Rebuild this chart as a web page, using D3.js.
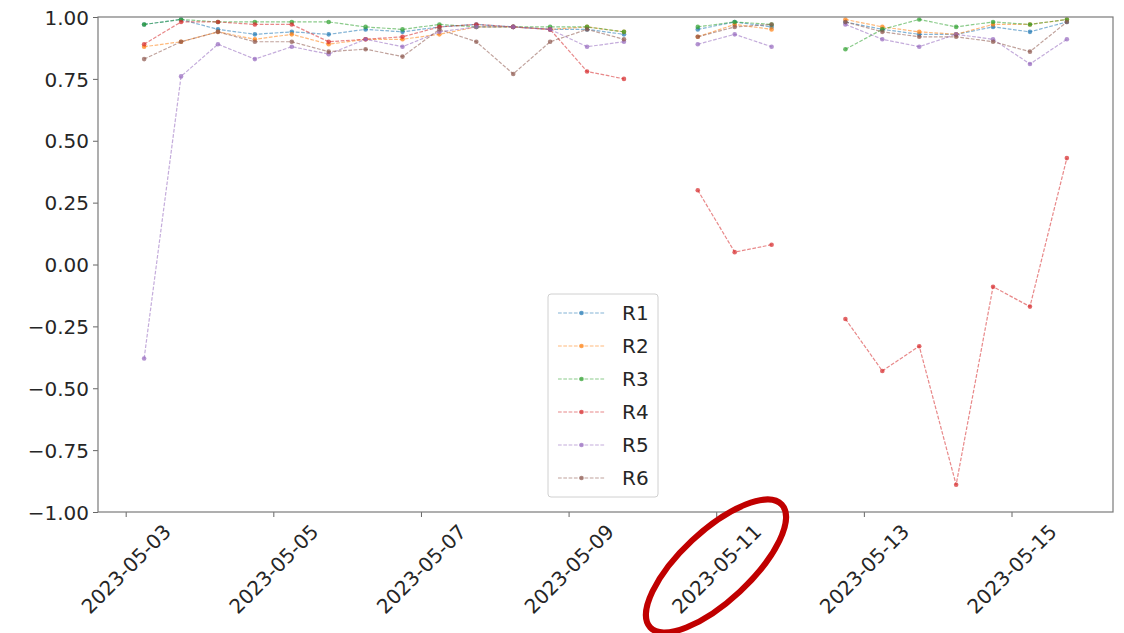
<!DOCTYPE html>
<html lang="en">
<head>
<meta charset="UTF-8">
<title>R1 - R6</title>
<script src="https://d3js.org/d3.v7.min.js"></script>
<style>
body, html { margin: 0; padding: 0; background: #fff; }
text { font-family: "DejaVu Sans", sans-serif; fill: #262626; }
.tick text { font-size: 20px; }
.axis path.domain { display: none; }
.tick line { stroke: #666; stroke-width: 1; }
.frame { fill: none; stroke: #7a7a7a; stroke-width: 1.2; }
.series { fill: none; stroke-width: 1.2; stroke-dasharray: 3.7,1.6; stroke-opacity: 0.55; }
.dot { fill-opacity: 0.7; }
.legend-box { fill: #fff; fill-opacity: 0.85; stroke: #d0d0d0; }
.legend-label { font-size: 20px; }
.note { fill: none; stroke: #c00000; stroke-width: 6; }
</style>
</head>
<body>
<script>
// sample times (every 12 hours)
var times = [
	"2023-05-03 06:00", "2023-05-03 18:00", "2023-05-04 06:00", "2023-05-04 18:00",
	"2023-05-05 06:00", "2023-05-05 18:00", "2023-05-06 06:00", "2023-05-06 18:00",
	"2023-05-07 06:00", "2023-05-07 18:00", "2023-05-08 06:00", "2023-05-08 18:00",
	"2023-05-09 06:00", "2023-05-09 18:00", "2023-05-10 06:00", "2023-05-10 18:00",
	"2023-05-11 06:00", "2023-05-11 18:00", "2023-05-12 06:00", "2023-05-12 18:00",
	"2023-05-13 06:00", "2023-05-13 18:00", "2023-05-14 06:00", "2023-05-14 18:00",
	"2023-05-15 06:00", "2023-05-15 18:00"
];

var R1 = [0.97, 0.99, 0.95, 0.93, 0.94, 0.93, 0.95, 0.94, 0.96, 0.97, 0.96, 0.95, 0.95, 0.93, null, 0.95, 0.98, 0.96, null, 0.98, 0.95, 0.93, 0.93, 0.96, 0.94, 0.98];
var R2 = [0.88, 0.90, 0.94, 0.91, 0.93, 0.89, 0.91, 0.91, 0.93, 0.96, 0.96, 0.95, 0.96, 0.94, null, 0.92, 0.97, 0.95, null, 0.99, 0.96, 0.94, 0.93, 0.97, 0.97, 0.99];
var R3 = [0.97, 0.99, 0.98, 0.98, 0.98, 0.98, 0.96, 0.95, 0.97, 0.96, 0.96, 0.96, 0.96, 0.94, null, 0.96, 0.98, 0.97, null, 0.87, 0.95, 0.99, 0.96, 0.98, 0.97, 0.99];
var R4 = [0.89, 0.98, 0.98, 0.97, 0.97, 0.90, 0.91, 0.92, 0.96, 0.97, 0.96, 0.95, 0.78, 0.75, null, 0.30, 0.05, 0.08, null, -0.22, -0.43, -0.33, -0.89, -0.09, -0.17, 0.43];
var R5 = [-0.38, 0.76, 0.89, 0.83, 0.88, 0.85, 0.91, 0.88, 0.94, 0.96, 0.96, 0.95, 0.88, 0.90, null, 0.89, 0.93, 0.88, null, 0.97, 0.91, 0.88, 0.93, 0.91, 0.81, 0.91];
var R6 = [0.83, 0.90, 0.94, 0.90, 0.90, 0.86, 0.87, 0.84, 0.95, 0.90, 0.77, 0.90, 0.95, 0.91, null, 0.92, 0.96, 0.97, null, 0.98, 0.94, 0.92, 0.92, 0.90, 0.86, 0.98];

var seriesNames = ["R1", "R2", "R3", "R4", "R5", "R6"];
var seriesValues = [R1, R2, R3, R4, R5, R6];
var colors = ["#1f77b4", "#ff7f0e", "#2ca02c", "#d62728", "#9467bd", "#8c564b"];

var xTickLabels = ["2023-05-03", "2023-05-05", "2023-05-07", "2023-05-09", "2023-05-11", "2023-05-13", "2023-05-15"];
var yTickValues = [1, 0.75, 0.5, 0.25, 0, -0.25, -0.5, -0.75, -1];

var w = 1124;
var h = 633;
var margin = { top: 17, right: 11, bottom: 121, left: 98 };
var width = w - margin.left - margin.right;
var height = h - margin.top - margin.bottom;

var timeParser = d3.timeParse("%Y-%m-%d %H:%M");
var dayParser = d3.timeParse("%Y-%m-%d");
var dates = times.map(timeParser);

var svg = d3.select("body").append("svg")
	.attr("width", w)
	.attr("height", h);

var chart = svg.append("g")
	.attr("transform", "translate(" + margin.left + "," + margin.top + ")");

// 5% padding on each side like the original
var ext = d3.extent(dates);
var pad = (ext[1] - ext[0]) * 0.05;
var x = d3.scaleTime()
	.domain([new Date(+ext[0] - pad), new Date(+ext[1] + pad)])
	.range([0, width]);

var y = d3.scaleLinear()
	.domain([-1, 1])
	.range([height, 0]);

var xAxis = d3.axisBottom(x)
	.tickValues(xTickLabels.map(dayParser))
	.tickFormat(d3.timeFormat("%Y-%m-%d"))
	.tickSize(5)
	.tickPadding(4);

var yAxis = d3.axisLeft(y)
	.tickValues(yTickValues)
	.tickFormat(d3.format(".2f"))
	.tickSize(5)
	.tickPadding(4);

chart.append("g")
	.classed("y axis", true)
	.call(yAxis)
	.selectAll("text")
	.attr("dy", "0.36em");

var xg = chart.append("g")
	.classed("x axis", true)
	.attr("transform", "translate(0," + height + ")")
	.call(xAxis);

xg.selectAll("text").each(function(){
	var L = this.getComputedTextLength();
	var half = (L + 14) * Math.SQRT1_2 / 2;
	d3.select(this)
		.attr("x", 0)
		.attr("y", 0)
		.attr("dy", "0.35em")
		.attr("text-anchor", "middle")
		.attr("transform", "translate(0," + (11 + half) + ") rotate(-45)");
});

var line = d3.line()
	.defined(function(d){ return d.v !== null; })
	.x(function(d){ return x(d.t); })
	.y(function(d){ return y(d.v); });

seriesValues.forEach(function(vals, i){
	var pts = vals.map(function(v, j){ return { t: dates[j], v: v }; });
	chart.append("path")
		.datum(pts)
		.classed("series", true)
		.attr("stroke", colors[i])
		.attr("d", line);

	chart.selectAll(".dot" + i)
		.data(pts.filter(function(d){ return d.v !== null; }))
		.enter()
			.append("circle")
			.attr("class", "dot dot" + i)
			.attr("cx", function(d){ return x(d.t); })
			.attr("cy", function(d){ return y(d.v); })
			.attr("r", 2.3)
			.style("fill", colors[i]);
});

chart.append("rect")
	.classed("frame", true)
	.attr("width", width)
	.attr("height", height);

// legend
var legend = chart.append("g")
	.attr("transform", "translate(" + (450) + "," + (277) + ")");

legend.append("rect")
	.classed("legend-box", true)
	.attr("width", 110)
	.attr("height", 203)
	.attr("rx", 3);

seriesNames.forEach(function(name, i){
	var ly = 19 + i * 33;
	legend.append("line")
		.attr("x1", 10).attr("x2", 57)
		.attr("y1", ly).attr("y2", ly)
		.classed("series", true)
		.attr("stroke", colors[i]);
	legend.append("circle")
		.classed("dot", true)
		.attr("cx", 33.5).attr("cy", ly)
		.attr("r", 2.3)
		.style("fill", colors[i]);
	legend.append("text")
		.classed("legend-label", true)
		.attr("x", 74)
		.attr("y", ly)
		.attr("dy", "0.36em")
		.text(name);
});

// hand drawn highlight around one tick label
svg.append("ellipse")
	.classed("note", true)
	.attr("cx", 0).attr("cy", 0)
	.attr("rx", 90).attr("ry", 35)
	.attr("transform", "translate(716,566) rotate(-43)");
</script>
</body>
</html>
